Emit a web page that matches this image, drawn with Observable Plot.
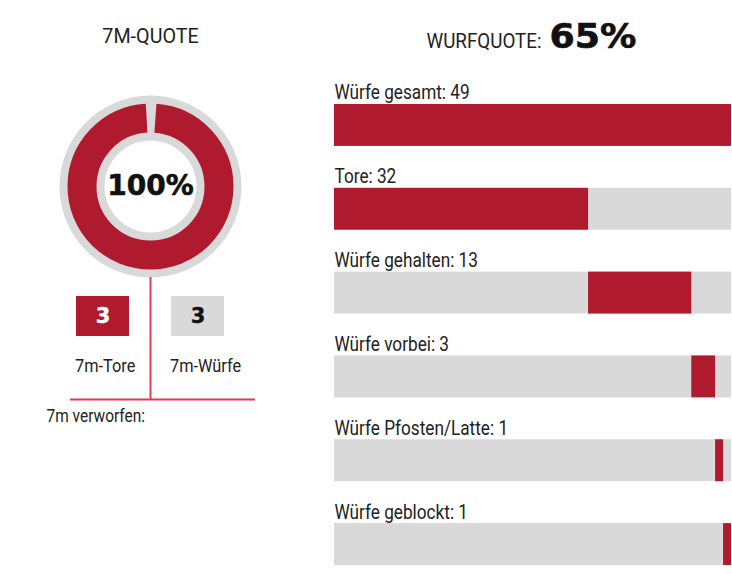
<!DOCTYPE html>
<html><head><meta charset="utf-8">
<script src="https://cdn.jsdelivr.net/npm/d3@7"></script>
<script src="https://cdn.jsdelivr.net/npm/@observablehq/plot@0.6"></script>
<style>
body{margin:0;background:#fff}
#wrap{position:relative;width:732px;height:574px;overflow:hidden}
#wrap svg{position:absolute;left:0;top:0}
</style></head>
<body><div id="wrap"></div>
<script>
// ---- data ----
const categories = ["Würfe gesamt","Tore","Würfe gehalten","Würfe vorbei","Würfe Pfosten/Latte","Würfe geblockt"];
const counts = [49,32,13,3,1,1];
const shotQuote = 65;          // Wurfquote %
const sevenQuote = 100;        // 7m-Quote %
const sevenLabels = ["7m-Tore","7m-Würfe"];
const sevenCounts = [3,3];
const sevenMissedLabel = "7m verworfen:";
const sevenTitle = "7M-QUOTE";
const shotTitle = "WURFQUOTE:";

// ---- derived tables ----
const rows = categories.map((c,i)=>({cat:c, value:counts[i]}));
let acc = 0;
rows.slice(1).forEach(r=>{r.x1=acc; acc+=r.value; r.x2=acc;});
const total = acc;
rows[0].x1 = 0; rows[0].x2 = total;
const boxes = sevenLabels.map((l,i)=>({label:l, value:sevenCounts[i]}));

// ---- styles ----
const RED="#b01a2e", GREY="#d9d9d9", LINE="#e63a4e", INK="#222";
const narrow = "Roboto, sans-serif";            // lower-case labels (condensed 0.86)
const narrowCaps = "Roboto, Arial, sans-serif"; // caps titles (condensed 0.94)
const wide = "DejaVu Sans, Verdana, sans-serif";
const wideX = "DejaVu Sans, sans-serif";        // extended big number

function condense(svg, family, k){
  svg.querySelectorAll(`g[font-family="${family}"] text`).forEach(t=>{
    const tr = t.getAttribute("transform") || "";
    t.setAttribute("transform", `${tr} scale(${k},1)`);
  });
}

const wrap = document.getElementById("wrap");

const bars = Plot.plot({
  width:732, height:574, marginLeft:334, marginRight:1, marginTop:104, marginBottom:9,
  x:{domain:[0,total], axis:null},
  y:{domain:categories, axis:null, paddingInner:0.5, paddingOuter:0, align:0, round:false},
  style:{background:"transparent", overflow:"visible"},
  marks:[
    Plot.barX(rows,{y:"cat", x1:()=>0, x2:()=>total, fill:GREY}),
    Plot.barX(rows,{y:"cat", x1:"x1", x2:"x2", fill:RED}),
    Plot.text(rows,{y:"cat", x:()=>0, text:d=>`${d.cat}: ${d.value}`, textAnchor:"start", lineAnchor:"bottom", dy:-26, fontSize:20, fontFamily:narrow, fill:INK}),
    Plot.text([shotTitle],{frameAnchor:"top", textAnchor:"end", lineAnchor:"bottom", dx:8.5, dy:-57, fontSize:20, fontFamily:narrowCaps, fill:INK}),
    Plot.text([`${shotQuote}%`],{frameAnchor:"top", textAnchor:"start", lineAnchor:"bottom", dx:16.5, dy:-57, fontSize:33, fontWeight:"bold", fontFamily:wideX, fill:"#111", stroke:"#111", strokeWidth:0.6})
  ]
});
condense(bars, narrow, 0.86);
condense(bars, narrowCaps, 0.94);
condense(bars, wideX, 1.1);
wrap.appendChild(bars);

// donut geometry
const ringR = 68.5, ringW = 29, gap = 9;
const circ = 2*Math.PI*ringR;
const redLen = circ*sevenQuote/100 - gap;

const left = Plot.plot({
  width:300, height:574, marginLeft:55, marginRight:55, marginTop:296, marginBottom:238,
  x:{domain:sevenLabels, axis:null, paddingInner:0.442, paddingOuter:0.221, round:false},
  y:{domain:["n"], axis:null, padding:0, round:false},
  style:{background:"transparent", overflow:"visible"},
  marks:[
    Plot.dot([sevenQuote],{frameAnchor:"top", dy:-110, r:91, fill:GREY}),
    Plot.dot([sevenQuote],{frameAnchor:"top", dy:-110, r:ringR, fill:"none", stroke:RED, strokeWidth:ringW,
      strokeDasharray:`${redLen} ${circ-redLen}`, strokeDashoffset: circ/4 - gap/2}),
    Plot.dot([sevenQuote],{frameAnchor:"top", dy:-110, r:46, fill:"white"}),
    Plot.text([`${sevenQuote}%`],{frameAnchor:"top", lineAnchor:"middle", dy:-110, fontSize:28, fontWeight:"bold", fontFamily:wide, fill:"#111", stroke:"#111", strokeWidth:0.6}),
    Plot.text([sevenTitle],{frameAnchor:"top", lineAnchor:"bottom", dy:-254, fontSize:21, fontFamily:narrowCaps, fill:INK}),
    Plot.ruleX([0],{x:null, insetTop:-19, insetBottom:-63, stroke:LINE, strokeWidth:2}),
    Plot.ruleY([0],{y:null, insetLeft:15, insetRight:-10, dy:83, stroke:LINE, strokeWidth:2}),
    Plot.cell(boxes,{filter:(d,i)=>i===0, x:"label", y:()=>"n", fill:RED}),
    Plot.cell(boxes,{filter:(d,i)=>i===1, x:"label", y:()=>"n", fill:GREY}),
    Plot.text(boxes,{filter:(d,i)=>i===0, x:"label", y:()=>"n", text:"value", fontSize:21, fontWeight:"bold", fontFamily:wide, fill:"white", stroke:"white", strokeWidth:0.4}),
    Plot.text(boxes,{filter:(d,i)=>i===1, x:"label", y:()=>"n", text:"value", fontSize:21, fontWeight:"bold", fontFamily:wide, fill:"#111", stroke:"#111", strokeWidth:0.4}),
    Plot.text(boxes,{x:"label", y:()=>"n", text:"label", textAnchor:"start", dx:-28, dy:49, fontSize:19, fontFamily:narrow, fill:INK}),
    Plot.text([sevenMissedLabel],{frameAnchor:"top-left", textAnchor:"start", lineAnchor:"bottom", dx:-9, dy:125, fontSize:18, fontFamily:narrow, fill:INK})
  ]
});
condense(left, narrow, 0.86);
condense(left, narrowCaps, 0.94);
wrap.appendChild(left);
</script>
</body></html>
